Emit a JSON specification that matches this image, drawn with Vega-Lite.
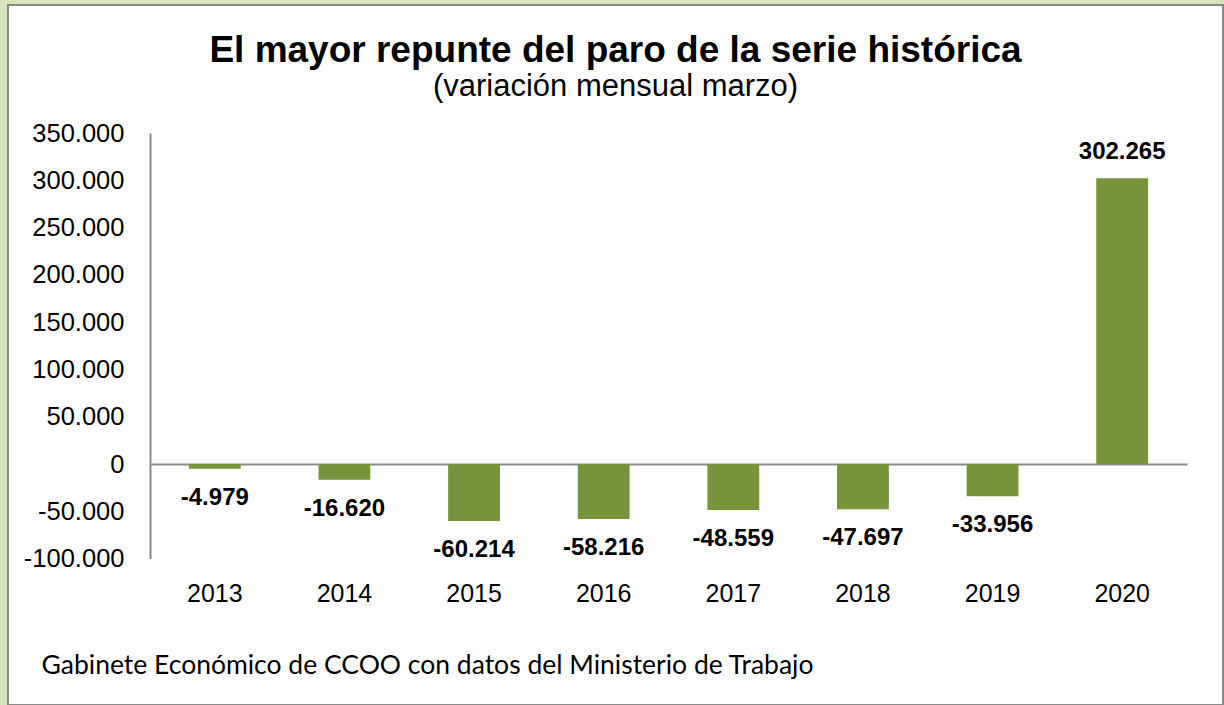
{
  "$schema": "https://vega.github.io/schema/vega-lite/v6.json",
  "autosize": {"type": "none"},
  "width": 1215,
  "height": 700,
  "padding": {"left": 8, "top": 5, "right": 1, "bottom": 0},
  "background": "#d7e4bd",
  "config": {
    "view": {"fill": "white", "stroke": "#8a8a8a", "strokeWidth": 2},
    "locale": {"number": {"decimal": ",", "thousands": ".", "grouping": [3], "currency": ["", " €"], "minus": "-"}}
  },
  "title": {
    "text": "El mayor repunte del paro de la serie histórica",
    "subtitle": "(variación mensual marzo)",
    "anchor": "middle",
    "frame": "group",
    "offset": -98,
    "font": "Liberation Sans",
    "fontSize": 37,
    "fontWeight": "bold",
    "color": "black",
    "subtitleFont": "Liberation Sans",
    "subtitleFontSize": 31,
    "subtitleColor": "black",
    "subtitlePadding": 2
  },
  "data": {
    "values": [
      {"year": "2013", "value": -4979},
      {"year": "2014", "value": -16620},
      {"year": "2015", "value": -60214},
      {"year": "2016", "value": -58216},
      {"year": "2017", "value": -48559},
      {"year": "2018", "value": -47697},
      {"year": "2019", "value": -33956},
      {"year": "2020", "value": 302265}
    ]
  },
  "encoding": {
    "x": {
      "field": "year",
      "type": "nominal",
      "sort": null,
      "scale": {"range": [142, 1179], "paddingInner": 0.6, "paddingOuter": 0.3},
      "axis": {
        "orient": "bottom",
        "offset": -241,
        "domainColor": "#8a8a8a",
        "domainWidth": 2,
        "ticks": false,
        "tickSize": 0,
        "grid": false,
        "labelAngle": 0,
        "labelPadding": 129,
        "labelBaseline": "middle",
        "labelFont": "Liberation Sans",
        "labelFontSize": 25,
        "labelColor": "black",
        "title": "Gabinete Económico de CCOO con datos del Ministerio de Trabajo",
        "titleX": 33,
        "titleY": 201,
        "titleAlign": "left",
        "titleAnchor": null,
        "titleBaseline": "middle",
        "titleFont": "Lato",
        "titleFontSize": 26.5,
        "titleFontWeight": "normal",
        "titleColor": "black"
      }
    },
    "y": {
      "field": "value",
      "type": "quantitative",
      "scale": {"domain": [-100000, 350000], "range": [553.6, 128], "nice": false, "zero": false},
      "axis": {
        "values": [-100000, -50000, 0, 50000, 100000, 150000, 200000, 250000, 300000, 350000],
        "format": ",d",
        "offset": -142,
        "domainColor": "#8a8a8a",
        "domainWidth": 2,
        "ticks": false,
        "tickSize": 0,
        "grid": false,
        "labelPadding": 26,
        "labelFont": "Liberation Sans",
        "labelFontSize": 25.5,
        "labelColor": "black",
        "title": null
      }
    }
  },
  "layer": [
    {"mark": {"type": "bar", "color": "#77933c"}},
    {
      "transform": [{"filter": "datum.value < 0"}],
      "mark": {"type": "text", "dy": 29, "baseline": "middle", "font": "Liberation Sans", "fontSize": 24, "fontWeight": "bold", "color": "black"},
      "encoding": {"text": {"field": "value", "type": "quantitative", "format": ",d"}}
    },
    {
      "transform": [{"filter": "datum.value >= 0"}],
      "mark": {"type": "text", "dy": -26, "baseline": "middle", "font": "Liberation Sans", "fontSize": 24, "fontWeight": "bold", "color": "black"},
      "encoding": {"text": {"field": "value", "type": "quantitative", "format": ",d"}}
    }
  ]
}
